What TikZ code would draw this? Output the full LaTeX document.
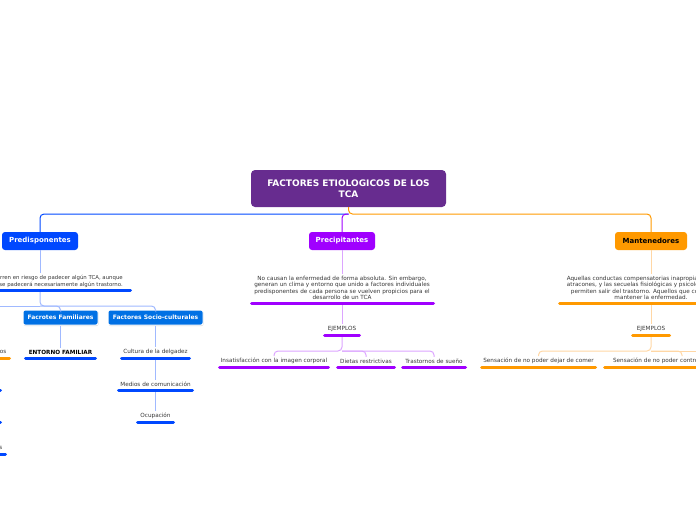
\documentclass[tikz,border=0pt]{standalone}
\usepackage{fontspec}
\setmainfont{DejaVu Sans}
\usetikzlibrary{shadows}
\definecolor{rootpurple}{RGB}{103,44,143}
\definecolor{predblue}{RGB}{0,72,255}
\definecolor{predlight}{RGB}{160,185,255}
\definecolor{subblue}{RGB}{0,112,228}
\definecolor{precpurple}{RGB}{160,0,255}
\definecolor{preclight}{RGB}{220,165,255}
\definecolor{mantorange}{RGB}{255,153,0}
\definecolor{mantlight}{RGB}{255,215,165}
\definecolor{txtgray}{RGB}{55,55,55}

\begin{document}
\begin{tikzpicture}[x=1pt, y=-1pt,
  mainbox/.style={rounded corners=4pt, minimum height=37pt, minimum width=195pt, fill=rootpurple, text=white, font=\fontsize{9}{11}\selectfont\bfseries, align=center},
  catbox/.style={rounded corners=3pt, minimum height=18pt, inner sep=0pt, fill=#1, text=white, font=\fontsize{7}{8}\selectfont\bfseries},
  subbox/.style={rounded corners=2pt, minimum height=15pt, inner sep=0pt, fill=subblue, draw=white, line width=1pt, text=white, font=\fontsize{6}{7}\selectfont\bfseries, drop shadow={shadow xshift=0.5pt, shadow yshift=-1pt, opacity=0.3}},
  note/.style={text=txtgray, font=\fontsize{5.7}{6.4}\selectfont, align=center, inner sep=2pt, yshift=-1.2pt},
  ul/.style={line width=3pt, line cap=round, #1},
  ln/.style={line width=1pt, rounded corners=4pt, #1},
]
  \useasboundingbox (0,0) rectangle (696,520);
  \clip (0,0) rectangle (696,520);

  % main topic and the three groups
  \node[mainbox] (root) at (348.5,188.5) {FACTORES ETIOLOGICOS DE LOS\\TCA};
  \node[catbox=predblue, minimum width=76pt] (pred) at (40,241) {Predisponentes};
  \node[catbox=precpurple, minimum width=66pt] (prec) at (342,241) {Precipitantes};
  \node[catbox=mantorange, minimum width=72pt, text=black] (mant) at (651,241) {Mantenedores};

  \coordinate (hub) at (348.5,214);
  \draw[ln=predblue] (hub) -| (pred);
  \draw[ln=precpurple] (hub) -| (prec);
  \draw[ln=mantorange] (root) -- (hub) -| (mant);

  % Predisponentes
  \node[note, align=right, anchor=east, font=\fontsize{5.4}{6.4}\selectfont] (predtxt) at (125,280) {Aquellos que corren en riesgo de padecer algún TCA, aunque\\no implica que se padecerá necesariamente algún trastorno.};
  \draw[ln=predlight] (pred) -- (pred |- predtxt.north);
  \coordinate (predbar) at (40,290);
  \coordinate (predfork) at (40,306);
  \coordinate (offleft) at (-30,306);
  \node[subbox, minimum width=75pt] (fam) at (60.5,317.5) {Facrotes Familiares};
  \node[subbox, minimum width=95pt] (soc) at (155.5,317.5) {Factores Socio-culturales};
  \draw[ln=predlight] (predbar) -- (predfork) -| (soc);
  \draw[ln=predlight] (predfork) -| (fam);
  \draw[ln=predlight] (predfork) -- (offleft);
  \draw[ul=predblue] (-60,290) -- (130.5,290);

  \node[note, text=black, font=\fontsize{5.7}{6.4}\selectfont\bfseries] (fament) at (60.5,351) {ENTORNO FAMILIAR};
  \draw[ln=predlight] (fam) -- (fament);
  \draw[ul=predblue] (25.5,358) -- (95.5,358);

  \node[note] (cul) at (155.5,351) {Cultura de la delgadez};
  \node[note] (med) at (155.5,383) {Medios de comunicación};
  \node[note] (ocu) at (155.5,415) {Ocupación};
  \coordinate (culbar) at (155.5,358);
  \coordinate (medbar) at (155.5,390);
  \draw[ln=predlight] (soc) -- (cul);
  \draw[ln=predlight] (culbar) -- (med);
  \draw[ln=predlight] (medbar) -- (ocu);
  \draw[ul=predblue] (121.5,358) -- (189.5,358);
  \draw[ul=predblue] (118.5,390) -- (192.5,390);
  \draw[ul=predblue] (137.5,422) -- (173.5,422);

  % pieces of the branch beyond the left edge
  \node[note, anchor=east, inner sep=0pt] (leftos) at (6.5,351) {os};
  \node[note, anchor=east, inner sep=0pt] (lefts) at (2.5,447) {s};
  \draw[ul=mantorange] (-20,358) -- (9.5,358);
  \draw[ul=predblue] (-20,390) -- (0.5,390);
  \draw[ul=predblue] (-20,422) -- (0.5,422);
  \draw[ul=predblue] (-20,454) -- (5.5,454);

  % Precipitantes
  \node[note] (prectxt) at (342,286.5) {No causan la enfermedad de forma absoluta. Sin embargo,\\generan un clima y entorno que unido a factores individuales\\predisponentes de cada persona se vuelven propicios para el\\desarrollo de un TCA};
  \draw[ln=preclight] (prec) -- (prectxt);
  \coordinate (precbar) at (342,303);
  \node[note] (pejm) at (342,328) {EJEMPLOS};
  \draw[ln=preclight] (precbar) -- (pejm);
  \coordinate (pejmbar) at (342,335);
  \coordinate (pfork) at (342,351);
  \node[note] (insat) at (274,360) {Insatisfacción con la imagen corporal};
  \node[note] (dietas) at (366,360) {Dietas restrictivas};
  \node[note] (trast) at (434,360) {Trastornos de sueño};
  \draw[ln=preclight] (pejmbar) -- (pfork) -| (insat);
  \draw[ln=preclight] (pfork) -| (dietas);
  \draw[ln=preclight] (pfork) -| (trast);
  \draw[ul=precpurple] (251.5,303) -- (433.5,303);
  \draw[ul=precpurple] (324.5,335) -- (359.5,335);
  \draw[ul=precpurple] (219.5,367) -- (328.5,367);
  \draw[ul=precpurple] (337.5,367) -- (394.5,367);
  \draw[ul=precpurple] (402.5,367) -- (465.5,367);

  % Mantenedores
  \node[note] (manttxt) at (651,286.5) {Aquellas conductas compensatorias inapropiadas como los\\atracones, y las secuelas fisiológicas y psicológicas que no\\permiten salir del trastorno. Aquellos que contribuyen a\\mantener la enfermedad.};
  \draw[ln=mantlight] (mant) -- (manttxt);
  \coordinate (mantbar) at (651,303);
  \node[note] (mejm) at (651,328) {EJEMPLOS};
  \draw[ln=mantlight] (mantbar) -- (mejm);
  \coordinate (mejmbar) at (651,335);
  \coordinate (mfork) at (651,351);
  \coordinate (offright) at (730,351);
  \node[note] (sens1) at (538.5,360) {Sensación de no poder dejar de comer};
  \node[note] (sens2) at (682,360) {Sensación de no poder controlar lo que se come};
  \draw[ln=mantlight] (mejmbar) -- (mfork) -| (sens1);
  \draw[ln=mantlight] (mfork) -| (sens2);
  \draw[ln=mantlight] (mfork) -- (offright);
  \draw[ul=mantorange] (559.5,303) -- (740,303);
  \draw[ul=mantorange] (632.5,335) -- (669.5,335);
  \draw[ul=mantorange] (481.5,367) -- (595.5,367);
  \draw[ul=mantorange] (604.5,367) -- (760,367);
\end{tikzpicture}
\end{document}
